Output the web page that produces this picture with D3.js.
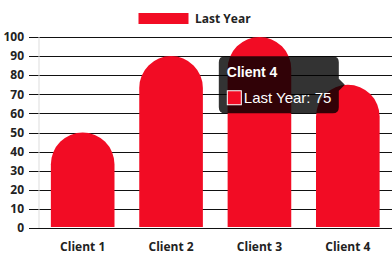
<!DOCTYPE html>
<html lang="en">
<head>
  <meta charset="UTF-8">
  <title>Clients</title>
  <script src="https://cdn.jsdelivr.net/npm/d3@7"></script>
  <style>
    body { margin: 0; background: #fff; }
    svg { display: block; }
  </style>
</head>
<body>
<svg id="chart" width="392" height="261"></svg>
<script>
  // data
  const clients = ["Client 1", "Client 2", "Client 3", "Client 4"];
  const lastYear = [50, 90, 100, 75];
  const yTicks = [0, 10, 20, 30, 40, 50, 60, 70, 80, 90, 100];
  const seriesName = "Last Year";
  const hoverIndex = 3;

  const red = "#f20c24";
  const font = "'Open Sans', sans-serif";
  const svg = d3.select("#chart");
  const margin = { top: 37, right: 0, bottom: 33, left: 38.5 };
  const W = 392, H = 261;

  const x = d3.scaleBand().domain(clients).range([margin.left, W - margin.right])
    .paddingInner(0.28).paddingOuter(0.14);
  const y = d3.scaleLinear().domain([0, 100]).range([H - margin.bottom, margin.top]);

  // grid lines (drawn first, bars cover them)
  svg.append("g").selectAll("line").data(yTicks).enter().append("line")
    .attr("x1", 29).attr("x2", W)
    .attr("y1", d => Math.round(y(d)) + 0.5).attr("y2", d => Math.round(y(d)) + 0.5)
    .attr("stroke", "#111").attr("stroke-width", 1);

  svg.append("line")
    .attr("x1", margin.left + 0.5).attr("x2", margin.left + 0.5)
    .attr("y1", margin.top).attr("y2", y(0))
    .attr("stroke", "#ddd");

  // y tick labels
  svg.append("g").selectAll("text").data(yTicks).enter().append("text")
    .attr("x", 24).attr("y", d => y(d)).attr("dy", "0.35em")
    .attr("text-anchor", "end")
    .attr("font-family", font).attr("font-weight", 700)
    .attr("font-size", 12).attr("fill", "#222")
    .text(d => d);

  // bars with round caps
  function barPath(d, i) {
    const bx = x(clients[i]), bw = x.bandwidth(), r = bw / 2;
    const top = y(d), bot = y(0) - 1;
    return `M${bx},${bot} V${top + r} A${r},${r} 0 0 1 ${bx + bw},${top + r} V${bot} Z`;
  }
  svg.append("g").selectAll("path").data(lastYear).enter().append("path")
    .attr("d", barPath).attr("fill", red);

  // x labels
  svg.append("g").selectAll("text").data(clients).enter().append("text")
    .attr("x", d => x(d) + x.bandwidth() / 2).attr("y", 251)
    .attr("text-anchor", "middle")
    .attr("font-family", font).attr("font-weight", 700)
    .attr("font-size", 12).attr("fill", "#222")
    .text(d => d);

  // legend
  svg.append("rect").attr("x", 138.5).attr("y", 13).attr("width", 50).attr("height", 11).attr("fill", red);
  svg.append("text").attr("x", 195).attr("y", 22.5)
    .attr("font-family", font).attr("font-weight", 700)
    .attr("font-size", 12).attr("fill", "#222").text(seriesName);

  // tooltip on hovered bar
  const cx = x(clients[hoverIndex]) + x.bandwidth() / 2;
  const cy = y(lastYear[hoverIndex]);
  const tip = svg.append("g");
  const tw = 120, th = 57;
  const tx = cx - 9 - tw, ty = cy - th / 2;
  tip.append("path")
    .attr("d", `M${tx + 6},${ty} H${tx + tw - 6} Q${tx + tw},${ty} ${tx + tw},${ty + 6} V${cy - 6} L${tx + tw + 6},${cy} L${tx + tw},${cy + 6} V${ty + th - 6} Q${tx + tw},${ty + th} ${tx + tw - 6},${ty + th} H${tx + 6} Q${tx},${ty + th} ${tx},${ty + th - 6} V${ty + 6} Q${tx},${ty} ${tx + 6},${ty} Z`)
    .attr("fill", "rgba(0,0,0,0.8)");
  tip.append("text").attr("x", tx + 8).attr("y", ty + 21)
    .attr("font-family", "'Liberation Sans', Arial, sans-serif").attr("font-weight", "bold")
    .attr("font-size", 14).attr("fill", "#fff").text(clients[hoverIndex]);
  tip.append("rect").attr("x", tx + 8.5).attr("y", ty + 34.5).attr("width", 14).attr("height", 14)
    .attr("fill", red).attr("stroke", "#fff").attr("stroke-width", 1);
  tip.append("text").attr("x", tx + 25).attr("y", ty + 46.5)
    .attr("font-family", "'Liberation Sans', Arial, sans-serif")
    .attr("font-size", 15).attr("fill", "#fff").text(seriesName + ": " + lastYear[hoverIndex]);
</script>
</body>
</html>
